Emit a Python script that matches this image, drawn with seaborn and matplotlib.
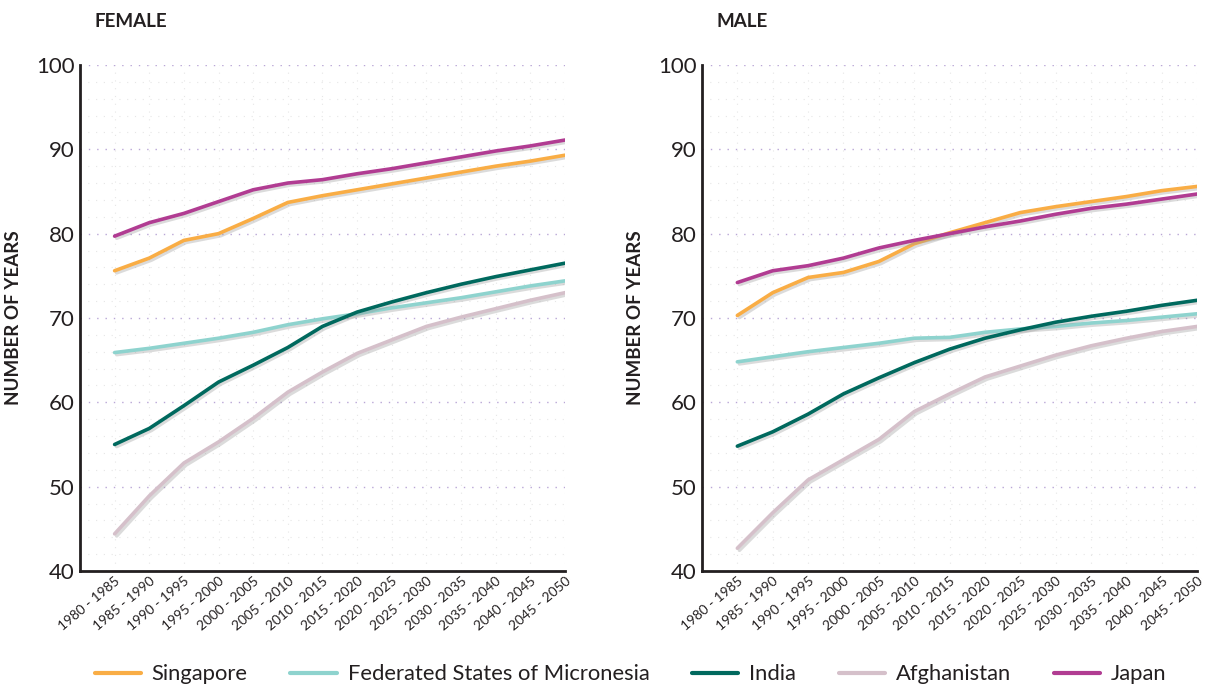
import pandas as pd
import matplotlib.pyplot as plt
import matplotlib.patheffects as pe
from matplotlib.ticker import MultipleLocator
import seaborn as sns

periods = ['1980 - 1985', '1985 - 1990', '1990 - 1995', '1995 - 2000', '2000 - 2005',
           '2005 - 2010', '2010 - 2015', '2015 - 2020', '2020 - 2025', '2025 - 2030',
           '2030 - 2035', '2035 - 2040', '2040 - 2045', '2045 - 2050']
countries = ['Singapore', 'Federated States of Micronesia', 'India', 'Afghanistan', 'Japan']
colors = ['#F9AD45', '#8ED3CE', '#00695E', '#D5C0CA', '#B13C92']

female_singapore = [75.6, 77.1, 79.2, 80.0, 81.8, 83.7, 84.5, 85.2, 85.9, 86.6, 87.3, 88.0, 88.6, 89.3]
female_micronesia = [65.9, 66.4, 67.0, 67.6, 68.3, 69.2, 69.9, 70.5, 71.2, 71.8, 72.4, 73.1, 73.8, 74.4]
female_india = [55.0, 56.9, 59.6, 62.4, 64.4, 66.5, 69.0, 70.7, 71.9, 73.0, 74.0, 74.9, 75.7, 76.5]
female_afghanistan = [44.4, 48.9, 52.8, 55.3, 58.1, 61.2, 63.6, 65.8, 67.4, 69.0, 70.1, 71.1, 72.1, 73.0]
female_japan = [79.7, 81.3, 82.4, 83.8, 85.2, 86.0, 86.4, 87.1, 87.7, 88.4, 89.1, 89.8, 90.4, 91.1]

male_singapore = [70.3, 73.0, 74.8, 75.4, 76.7, 78.8, 80.1, 81.3, 82.5, 83.2, 83.8, 84.4, 85.1, 85.6]
male_micronesia = [64.8, 65.4, 66.0, 66.5, 67.0, 67.6, 67.7, 68.3, 68.7, 69.0, 69.4, 69.7, 70.1, 70.5]
male_india = [54.8, 56.5, 58.6, 61.0, 62.9, 64.7, 66.3, 67.6, 68.6, 69.5, 70.2, 70.8, 71.5, 72.1]
male_afghanistan = [42.7, 46.9, 50.8, 53.2, 55.6, 58.9, 61.0, 63.0, 64.3, 65.6, 66.7, 67.6, 68.4, 69.0]
male_japan = [74.2, 75.6, 76.2, 77.1, 78.3, 79.2, 80.0, 80.8, 81.5, 82.3, 83.0, 83.5, 84.1, 84.7]

female = [female_singapore, female_micronesia, female_india, female_afghanistan, female_japan]
male = [male_singapore, male_micronesia, male_india, male_afghanistan, male_japan]


def long_form(series):
    rows = []
    for country, vals in zip(countries, series):
        for p, v in zip(periods, vals):
            rows.append({'period': p, 'years': v, 'country': country})
    return pd.DataFrame(rows)


sns.set_style('white')
plt.rcParams['font.family'] = ['Lato', 'DejaVu Sans']

fig = plt.figure(figsize=(12.08, 6.89), dpi=100)
ax_f = fig.add_axes([0.0662, 0.1713, 0.4015, 0.7344])
ax_m = fig.add_axes([0.5811, 0.1713, 0.4100, 0.7344])

shadow = [pe.SimpleLineShadow(offset=(1.5, -1.5), shadow_color='#999999', alpha=0.35),
          pe.Normal()]

for ax, data, title in [(ax_f, female, 'FEMALE'), (ax_m, male, 'MALE')]:
    df = long_form(data)
    sns.lineplot(data=df, x='period', y='years', hue='country', hue_order=countries,
                 palette=colors, linewidth=2.6, sort=False, legend=False, ax=ax,
                 path_effects=shadow)
    ax.set_xlim(-1, 13)
    ax.set_ylim(40, 100)
    ax.yaxis.set_major_locator(MultipleLocator(10))
    ax.yaxis.set_minor_locator(MultipleLocator(2))
    ax.grid(axis='y', which='major', linestyle=(0, (1, 5)), color='#b9a6d6', linewidth=1)
    ax.grid(axis='y', which='minor', linestyle=(0, (1, 6)), color='#e6e6e6', linewidth=0.8)
    ax.grid(axis='x', which='major', linestyle=(0, (1, 6)), color='#e6e6e6', linewidth=0.8)
    ax.set_axisbelow(True)
    for s in ['top', 'right']:
        ax.spines[s].set_visible(False)
    for s in ['left', 'bottom']:
        ax.spines[s].set_color('#231f20')
        ax.spines[s].set_linewidth(2)
    ax.tick_params(axis='both', which='both', length=0)
    ax.tick_params(axis='y', labelsize=16, colors='#231f20', pad=4)
    ax.tick_params(axis='x', pad=3)
    ax.set_xticks(range(len(periods)))
    ax.set_xticklabels(periods, rotation=40, ha='right', rotation_mode='anchor',
                       fontsize=9.8, color='#231f20')
    ax.set_xlabel('')
    ax.set_ylabel('NUMBER OF YEARS', fontsize=13.5, fontweight='bold', color='#231f20',
                  labelpad=10)
    ax.text(0.03, 1.07, title, transform=ax.transAxes, fontsize=13.5, fontweight='bold',
            color='#231f20', va='bottom', ha='left')

handles = [plt.Line2D([], [], color=c, linewidth=3) for c in colors]
fig.legend(handles, countries, loc='lower left', bbox_to_anchor=(0.062, -0.022, 0.92, 0.04),
           mode='expand', ncol=5, frameon=False, fontsize=15.8, handlelength=2.1,
           handletextpad=0.5, labelcolor='#231f20')

fig.savefig('out.png', dpi=100)
